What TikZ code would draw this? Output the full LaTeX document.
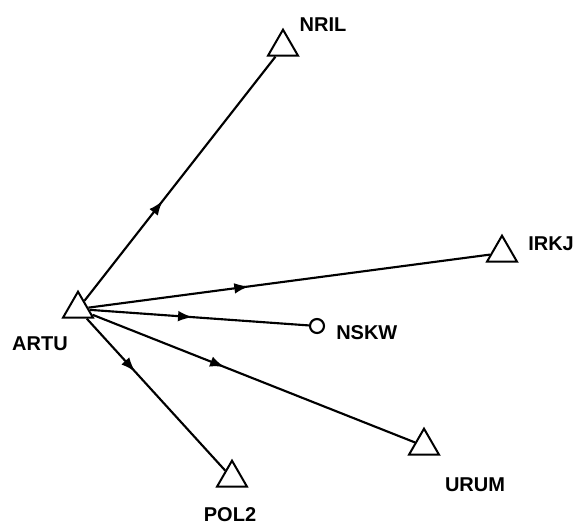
\documentclass[tikz,border=0pt]{standalone}
\usepackage{fontspec}
\setmainfont{Liberation Sans}
\usetikzlibrary{shapes.geometric,arrows.meta,decorations.markings}
\begin{document}
\begin{tikzpicture}[x=0.75pt,y=-0.75pt,
  station/.style={draw,line width=1.5pt,regular polygon,regular polygon sides=3,minimum size=26pt,inner sep=0pt},
  pointst/.style={draw,line width=1.6pt,circle,minimum size=10.5pt,inner sep=0pt},
  lbl/.style={font=\fontsize{15}{17}\selectfont\bfseries,inner sep=0pt},
  link/.style={line width=1.6pt,postaction={decorate},
    decoration={markings,mark=at position #1 with {\arrow{Latex[length=11pt,width=8pt]}}}}
]
\useasboundingbox (0,0) rectangle (573,526);
\node[station] (artu) at (78,309) {};
\node[station] (nril) at (283,47) {};
\node[station] (irkj) at (502,253) {};
\node[pointst] (nskw) at (317,326) {};
\node[station] (urum) at (424,446) {};
\node[station] (pol2) at (232,478) {};

\node[lbl] (tartu) at (40,344) {ARTU};
\node[lbl] (tnril) at (323,25) {NRIL};
\node[lbl,anchor=west] (tirkj) at (528,244) {IRKJ};
\node[lbl,anchor=west] (tnskw) at (336,333) {NSKW};
\node[lbl] (turum) at (475,485) {URUM};
\node[lbl] (tpol2) at (230,515) {POL2};

\draw[link=0.41] (artu) -- (nril);
\draw[link=0.40] (artu) -- (irkj);
\draw[link=0.47] (artu) -- (nskw);
\draw[link=0.41] (artu) -- (urum);
\draw[link=0.35] (artu) -- (pol2);
\end{tikzpicture}
\end{document}
